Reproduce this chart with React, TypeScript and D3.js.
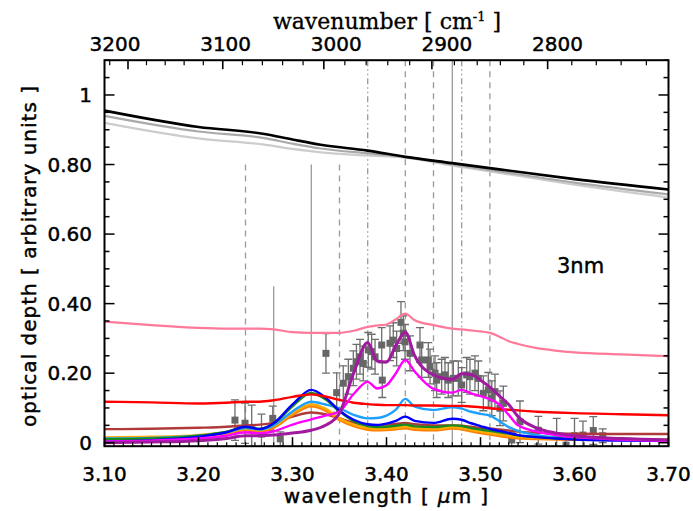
import React from "react";
import * as d3 from "d3";

// ---------- data ----------
const modelGrid = [3.10, 3.15, 3.20, 3.23, 3.25, 3.265, 3.28, 3.30, 3.32, 3.335, 3.35, 3.365, 3.38, 3.39, 3.40, 3.41, 3.42, 3.43, 3.45, 3.47, 3.48, 3.49, 3.50, 3.51, 3.52, 3.53, 3.54, 3.56, 3.58, 3.60, 3.65, 3.70];

const brownVals = [0.039, 0.040, 0.043, 0.046, 0.050, 0.052, 0.058, 0.075, 0.087, 0.082, 0.070, 0.058, 0.051, 0.050, 0.052, 0.054, 0.057, 0.053, 0.050, 0.050, 0.049, 0.046, 0.043, 0.041, 0.038, 0.035, 0.032, 0.029, 0.027, 0.026, 0.025, 0.025];
const darkOrangeVals = [0.012, 0.014, 0.019, 0.027, 0.037, 0.033, 0.044, 0.080, 0.105, 0.093, 0.066, 0.048, 0.038, 0.036, 0.037, 0.039, 0.042, 0.038, 0.036, 0.041, 0.039, 0.033, 0.028, 0.024, 0.020, 0.016, 0.013, 0.011, 0.010, 0.009, 0.008, 0.008];
const goldVals = [0.015, 0.017, 0.022, 0.030, 0.040, 0.036, 0.048, 0.085, 0.110, 0.098, 0.070, 0.052, 0.042, 0.040, 0.041, 0.043, 0.046, 0.042, 0.040, 0.045, 0.043, 0.037, 0.032, 0.028, 0.024, 0.020, 0.017, 0.014, 0.012, 0.011, 0.010, 0.009];
const lightBlueVals = [0.012, 0.014, 0.020, 0.030, 0.042, 0.038, 0.050, 0.090, 0.118, 0.110, 0.099, 0.080, 0.070, 0.071, 0.078, 0.095, 0.126, 0.104, 0.094, 0.102, 0.098, 0.089, 0.083, 0.078, 0.062, 0.045, 0.034, 0.022, 0.015, 0.012, 0.009, 0.007];
const greenVals = [0.010, 0.012, 0.020, 0.032, 0.045, 0.040, 0.055, 0.105, 0.143, 0.125, 0.090, 0.062, 0.048, 0.045, 0.046, 0.049, 0.052, 0.047, 0.045, 0.050, 0.048, 0.042, 0.038, 0.034, 0.030, 0.026, 0.021, 0.016, 0.013, 0.011, 0.009, 0.008];
const blueVals = [0.003, 0.007, 0.017, 0.030, 0.046, 0.039, 0.056, 0.110, 0.152, 0.130, 0.092, 0.066, 0.053, 0.051, 0.055, 0.063, 0.075, 0.063, 0.057, 0.069, 0.066, 0.056, 0.048, 0.040, 0.034, 0.028, 0.022, 0.016, 0.012, 0.009, 0.006, 0.005];
const redVals = [0.118, 0.116, 0.113, 0.115, 0.118, 0.118, 0.122, 0.132, 0.139, 0.133, 0.123, 0.115, 0.111, 0.109, 0.108, 0.108, 0.108, 0.107, 0.107, 0.106, 0.106, 0.104, 0.102, 0.099, 0.097, 0.095, 0.093, 0.089, 0.087, 0.085, 0.082, 0.079];
const pinkVals = [0.348, 0.338, 0.330, 0.328, 0.328, 0.328, 0.326, 0.318, 0.316, 0.316, 0.316, 0.322, 0.333, 0.337, 0.340, 0.355, 0.371, 0.352, 0.338, 0.328, 0.326, 0.323, 0.320, 0.316, 0.305, 0.292, 0.284, 0.272, 0.265, 0.260, 0.254, 0.249];
const magentaVals = [0.004, 0.006, 0.012, 0.020, 0.030, 0.027, 0.033, 0.052, 0.067, 0.078, 0.090, 0.140, 0.175, 0.156, 0.165, 0.200, 0.238, 0.205, 0.155, 0.144, 0.152, 0.142, 0.134, 0.125, 0.110, 0.080, 0.050, 0.032, 0.022, 0.016, 0.009, 0.005];
const purpleVals = [0.000, 0.002, 0.006, 0.012, 0.020, 0.020, 0.022, 0.028, 0.036, 0.050, 0.085, 0.200, 0.288, 0.235, 0.232, 0.280, 0.318, 0.250, 0.195, 0.182, 0.198, 0.196, 0.180, 0.160, 0.135, 0.110, 0.075, 0.042, 0.028, 0.020, 0.012, 0.008];

const contGrid = [3.10, 3.20, 3.27, 3.30, 3.33, 3.38, 3.42, 3.47, 3.52, 3.60, 3.70];
const blackVals = [0.955, 0.908, 0.888, 0.872, 0.857, 0.840, 0.822, 0.804, 0.786, 0.758, 0.728];
const greyVals = [0.940, 0.895, 0.876, 0.860, 0.846, 0.832, 0.822, 0.800, 0.780, 0.748, 0.714];
const lightGreyVals = [0.920, 0.875, 0.857, 0.845, 0.835, 0.826, 0.820, 0.797, 0.776, 0.742, 0.705];

// observed spectrum: wavelength, optical depth, error
const obsWave = [3.2388, 3.2495, 3.2566, 3.267, 3.279, 3.287, 3.3356, 3.347, 3.354, 3.3594, 3.3647, 3.368, 3.3718, 3.3753, 3.3806, 3.3842, 3.3878, 3.3949, 3.3955, 3.4037, 3.4072, 3.4108, 3.4154, 3.4179, 3.4197, 3.425, 3.4356, 3.4374, 3.4445, 3.4463, 3.4516, 3.4534, 3.4587, 3.4622, 3.4657, 3.4711, 3.4764, 3.48, 3.4853, 3.4888, 3.4941, 3.4977, 3.503, 3.5083, 3.512, 3.5154, 3.5207, 3.5243, 3.5332, 3.542, 3.5615, 3.581, 3.591, 3.60, 3.609, 3.62, 3.63];
const obsVal = [0.065, 0.056, 0.040, 0.025, 0.070, 0.011, 0.257, 0.144, 0.171, 0.190, 0.214, 0.233, 0.247, 0.228, 0.267, 0.262, 0.247, 0.281, 0.180, 0.286, 0.295, 0.271, 0.346, 0.315, 0.290, 0.257, 0.281, 0.238, 0.238, 0.219, 0.200, 0.180, 0.190, 0.195, 0.180, 0.185, 0.185, 0.166, 0.195, 0.190, 0.200, 0.185, 0.142, 0.152, 0.128, 0.147, 0.099, 0.113, 0.008, 0.060, 0.036, 0.020, -0.007, 0.020, 0.022, 0.035, 0.020];
const obsErr = [0.058, 0.058, 0.068, 0.057, 0.035, 0.020, 0.057, 0.057, 0.050, 0.050, 0.050, 0.050, 0.050, 0.050, 0.050, 0.050, 0.050, 0.050, 0.050, 0.050, 0.050, 0.050, 0.060, 0.050, 0.050, 0.050, 0.050, 0.050, 0.050, 0.050, 0.050, 0.050, 0.050, 0.050, 0.050, 0.050, 0.050, 0.050, 0.050, 0.050, 0.050, 0.050, 0.050, 0.050, 0.050, 0.050, 0.050, 0.050, 0.020, 0.060, 0.040, 0.050, 0.030, 0.050, 0.040, 0.040, 0.020];

// reference lines: wavelength, top value, dash style
const refWave = [3.25, 3.28, 3.32, 3.35, 3.38, 3.42, 3.45, 3.47, 3.48, 3.51];
const refTop = [0.80, 0.45, 0.80, 0.80, 1.1, 1.1, 1.1, 1.1, 1.1, 1.1];
const refStyle = ["dash", "solid", "solid", "dash", "dashdot", "dash", "dash", "solid", "dashdot", "dash"];

const xTickLabels = ["3.10", "3.20", "3.30", "3.40", "3.50", "3.60", "3.70"];
const yTickValues = [0, 0.2, 0.4, 0.6, 0.8, 1.0];
const yTickLabels = ["0", "0.20", "0.40", "0.60", "0.80", "1"];
const topTickLabels = [3200, 3100, 3000, 2900, 2800];

// ---------- layout ----------
const W = 693, H = 511;
const L = 104.5, R = 668.5, T = 60.2, B = 446.2;

export default function App() {
  const x = d3.scaleLinear().domain([3.1, 3.7]).range([L, R]);
  const y = d3.scaleLinear().domain([-0.01, 1.1]).range([B, T]);
  const topLabelX = d3.scaleLinear().domain([3200, 2800]).range([115, 557.5]);

  const line = (grid: number[], vals: number[]) =>
    d3.line<number>().x((_, i) => x(grid[i])).y((v) => y(v)).curve(d3.curveMonotoneX)(vals) || "";

  const models = [
    { vals: brownVals, color: "#b03a3a", w: 2.4 },
    { vals: darkOrangeVals, color: "#ff7f00", w: 2.8 },
    { vals: goldVals, color: "#ffaa00", w: 2.4 },
    { vals: lightBlueVals, color: "#1ea0ff", w: 2.4 },
    { vals: greenVals, color: "#1a8a1a", w: 2.4 },
    { vals: blueVals, color: "#0000ff", w: 2.4 },
    { vals: redVals, color: "#ff0000", w: 2.4 },
    { vals: magentaVals, color: "#ff00ff", w: 2.4 },
    { vals: purpleVals, color: "#a0199e", w: 3 },
    { vals: pinkVals, color: "#ff7a9a", w: 2.2 },
  ];

  const conts = [
    { vals: lightGreyVals, color: "#cccccc", w: 2.2 },
    { vals: greyVals, color: "#a9a9a9", w: 2.2 },
    { vals: blackVals, color: "#000000", w: 2.6 },
  ];

  const dashOf = (s: string) => (s === "dash" ? "6,5" : s === "dashdot" ? "6,3,1.5,3,1.5,3" : undefined);

  const xMinor = d3.range(310, 371).map((v) => v / 100);
  const xMajor = d3.range(0, 7).map((i) => 3.1 + i * 0.1);
  const yMinor = d3.range(0, 23).map((i) => i * 0.05);
  const topMinor = d3.range(3220, 2700, -20);

  const font = "'DejaVu Sans', sans-serif";
  const heavy = { stroke: "#000", strokeWidth: 0.45 };

  return (
    <svg width={W} height={H} style={{ position: "absolute", left: 0, top: 0, background: "#fff" }}>
      <defs>
        <clipPath id="plot">
          <rect x={L} y={T} width={R - L} height={B - T} />
        </clipPath>
      </defs>
      <rect x={0} y={0} width={W} height={H} fill="#fff" />
      <g clipPath="url(#plot)">
        {refWave.map((w, i) => (
          <line key={"r" + i} x1={x(w)} x2={x(w)} y1={y(refTop[i])} y2={B}
            stroke="#9a9a9a" strokeWidth={1.3} strokeDasharray={dashOf(refStyle[i])} />
        ))}
        {conts.map((c, i) => (
          <path key={"c" + i} d={line(contGrid, c.vals)} fill="none" stroke={c.color} strokeWidth={c.w} />
        ))}
        {obsWave.map((w, i) => {
          const cx = x(w);
          const y1 = y(obsVal[i] + obsErr[i]);
          const y2 = y(obsVal[i] - obsErr[i]);
          return (
            <g key={"o" + i} stroke="#6e6e6e" strokeWidth={1.3}>
              <line x1={cx} x2={cx} y1={y1} y2={y2} />
              <line x1={cx - 4} x2={cx + 4} y1={y1} y2={y1} />
              <line x1={cx - 4} x2={cx + 4} y1={y2} y2={y2} />
              <rect x={cx - 3.5} y={y(obsVal[i]) - 3.5} width={7} height={7} fill="#666" stroke="none" />
            </g>
          );
        })}
        {models.map((m, i) => (
          <path key={"m" + i} d={line(modelGrid, m.vals)} fill="none" stroke={m.color} strokeWidth={m.w} strokeLinejoin="round" />
        ))}
      </g>

      {/* frame */}
      <rect x={L} y={T} width={R - L} height={B - T} fill="none" stroke="#000" strokeWidth={2} />

      {/* bottom ticks */}
      {xMinor.map((v, i) => (
        <line key={"xm" + i} x1={x(v)} x2={x(v)} y1={B} y2={B - 4} stroke="#000" strokeWidth={1.2} />
      ))}
      {xMajor.map((v, i) => (
        <g key={"xM" + i}>
          <line x1={x(v)} x2={x(v)} y1={B} y2={B - 9} stroke="#000" strokeWidth={1.5} />
          <text x={x(v)} y={481} textAnchor="middle" fontFamily={font} fontSize={20} {...heavy}>{xTickLabels[i]}</text>
        </g>
      ))}
      <text x={(L + R) / 2} y={503} textAnchor="middle" fontFamily={font} fontSize={20} letterSpacing={1.3} {...heavy}>
        wavelength [ <tspan fontStyle="italic">μ</tspan>m ]
      </text>

      {/* top ticks (wavenumber) */}
      {topMinor.map((wn, i) => {
        const major = wn % 100 === 0;
        const xx = x(10000 / wn);
        return (
          <line key={"tm" + i} x1={xx} x2={xx} y1={T} y2={T + (major ? 9 : 5)} stroke="#000" strokeWidth={major ? 1.6 : 1.2} />
        );
      })}
      {topTickLabels.map((wn, i) => (
        <text key={"tl" + i} x={topLabelX(wn)} y={51} textAnchor="middle" fontFamily={font} fontSize={20} {...heavy}>{wn}</text>
      ))}
      <text x={387} y={29} textAnchor="middle" fontFamily="'DejaVu Serif', serif" fontSize={22} {...heavy} strokeWidth={0.3}>
        wavenumber [ cm<tspan dy={-8} fontSize={13}>-1</tspan><tspan dy={8}> ]</tspan>
      </text>

      {/* left / right ticks */}
      {yMinor.map((v, i) => {
        const major = Math.abs(v / 0.2 - Math.round(v / 0.2)) < 1e-6;
        const len = major ? 10 : 5;
        return (
          <g key={"ym" + i}>
            <line x1={L} x2={L + len} y1={y(v)} y2={y(v)} stroke="#000" strokeWidth={1.5} />
            <line x1={R} x2={R - len} y1={y(v)} y2={y(v)} stroke="#000" strokeWidth={1.5} />
          </g>
        );
      })}
      {yTickValues.map((v, i) => (
        <text key={"yl" + i} x={92} y={y(v) + 7} textAnchor="end" fontFamily={font} fontSize={20} {...heavy}>{yTickLabels[i]}</text>
      ))}
      <text transform={`translate(36, ${256}) rotate(-90)`} textAnchor="middle" fontFamily={font} fontSize={20} letterSpacing={1} {...heavy}>
        optical depth [ arbitrary units ]
      </text>

      <text x={557} y={273} fontFamily={font} fontSize={21} {...heavy}>3nm</text>
    </svg>
  );
}
